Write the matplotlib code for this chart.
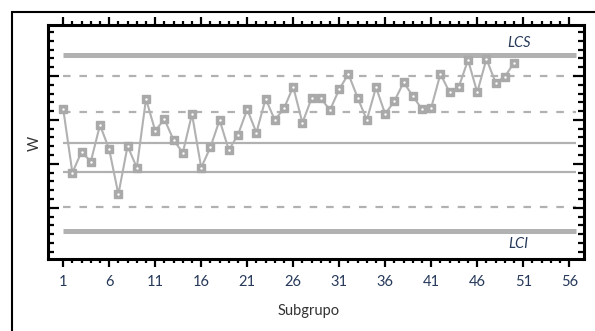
import matplotlib.pyplot as plt
from matplotlib.patches import Rectangle
from matplotlib.ticker import FixedLocator, MultipleLocator

plt.rcParams['font.family'] = ['Lato', 'DejaVu Sans']

# subgroup means
subgroups = list(range(1, 51))
w = [21.28, 13.99, 16.38, 15.24, 19.42, 16.65, 11.53, 17.03, 14.56, 22.38,
     18.77, 20.07, 17.71, 16.26, 20.67, 14.56, 16.88, 19.99, 16.57, 18.31,
     21.21, 18.54, 22.41, 19.99, 21.32, 23.78, 19.67, 22.46, 22.46, 21.13,
     23.49, 25.23, 22.53, 19.99, 23.71, 20.67, 22.15, 24.28, 22.72, 21.21,
     21.39, 25.23, 23.14, 23.78, 26.82, 23.14, 26.94, 24.24, 24.92, 26.51]

# control limits and zone lines
lcs = 27.43
lci = 7.35
center = 17.40
dashed_lines = [25.03, 20.93, 10.11]
solid_lines = [center, 14.03]

xticks = list(range(1, 57, 5))

grey = '#b1b1b1'
navy = '#26395a'

fig = plt.figure(figsize=(5.95, 3.31), dpi=100)
W, H = 595, 331
ax = fig.add_axes([48 / W, 1 - 259 / H, (583.5 - 48) / W, (259 - 25) / H])

# outer frame
fig.patches.append(Rectangle((11.5 / W, -0.1), 1.2, 1 - 11.5 / H + 0.1,
                             transform=fig.transFigure, fill=False,
                             edgecolor='black', lw=1.5))

x_end = 56.7
ax.hlines([lcs, lci], 1, x_end, colors=grey, lw=3.6, zorder=1)
ax.hlines(solid_lines, 1, x_end, colors=grey, lw=1.6, zorder=1)
ax.hlines(dashed_lines, 1, x_end, colors=grey, lw=1.6,
          linestyles=(0, (3.4, 4.0)), zorder=1)

ax.plot(subgroups, w, color=grey, lw=1.5, marker='s', ms=5.2,
        mfc='#a9a9a9', mec='#a9a9a9', zorder=3)
ax.plot(subgroups, w, ls='none', marker='s', ms=0.7, mfc='white',
        mec='white', zorder=4)

ax.text(50.5, lcs + 1.3, 'LCS', style='italic', color=navy, fontsize=10.5,
        ha='center', va='center')
ax.text(50.5, lci - 1.5, 'LCI', style='italic', color=navy, fontsize=10.5,
        ha='center', va='center')

ax.set_xlim(-0.65, 57.55)
ax.set_ylim(4.16, 30.81)

ax.xaxis.set_major_locator(FixedLocator(xticks))
ax.xaxis.set_minor_locator(FixedLocator(range(1, 57)))
ax.yaxis.set_major_locator(FixedLocator([10, 15, 20, 25]))
ax.yaxis.set_minor_locator(MultipleLocator(1))

ax.tick_params(axis='x', which='both', direction='out', top=True,
               labeltop=False, width=1.6, colors='black', labelcolor=navy,
               labelsize=10.5, pad=5.5)
ax.tick_params(axis='x', which='major', length=6)
ax.tick_params(axis='x', which='minor', length=3)
ax.tick_params(axis='y', which='both', direction='in', right=True,
               labelleft=False, width=1.6)
ax.tick_params(axis='y', which='major', length=8)
ax.tick_params(axis='y', which='minor', length=4.5)

for s in ax.spines.values():
    s.set_linewidth(2.2)

fig.text(309 / W, 1 - 311 / H, 'Subgrupo', ha='center', va='center',
         fontsize=10.5, color='#333333')
fig.text(35 / W, 1 - 143 / H, 'W', ha='center', va='center', rotation=90,
         fontsize=10.5, color='#333333')

fig.savefig('out.png', dpi=100)
